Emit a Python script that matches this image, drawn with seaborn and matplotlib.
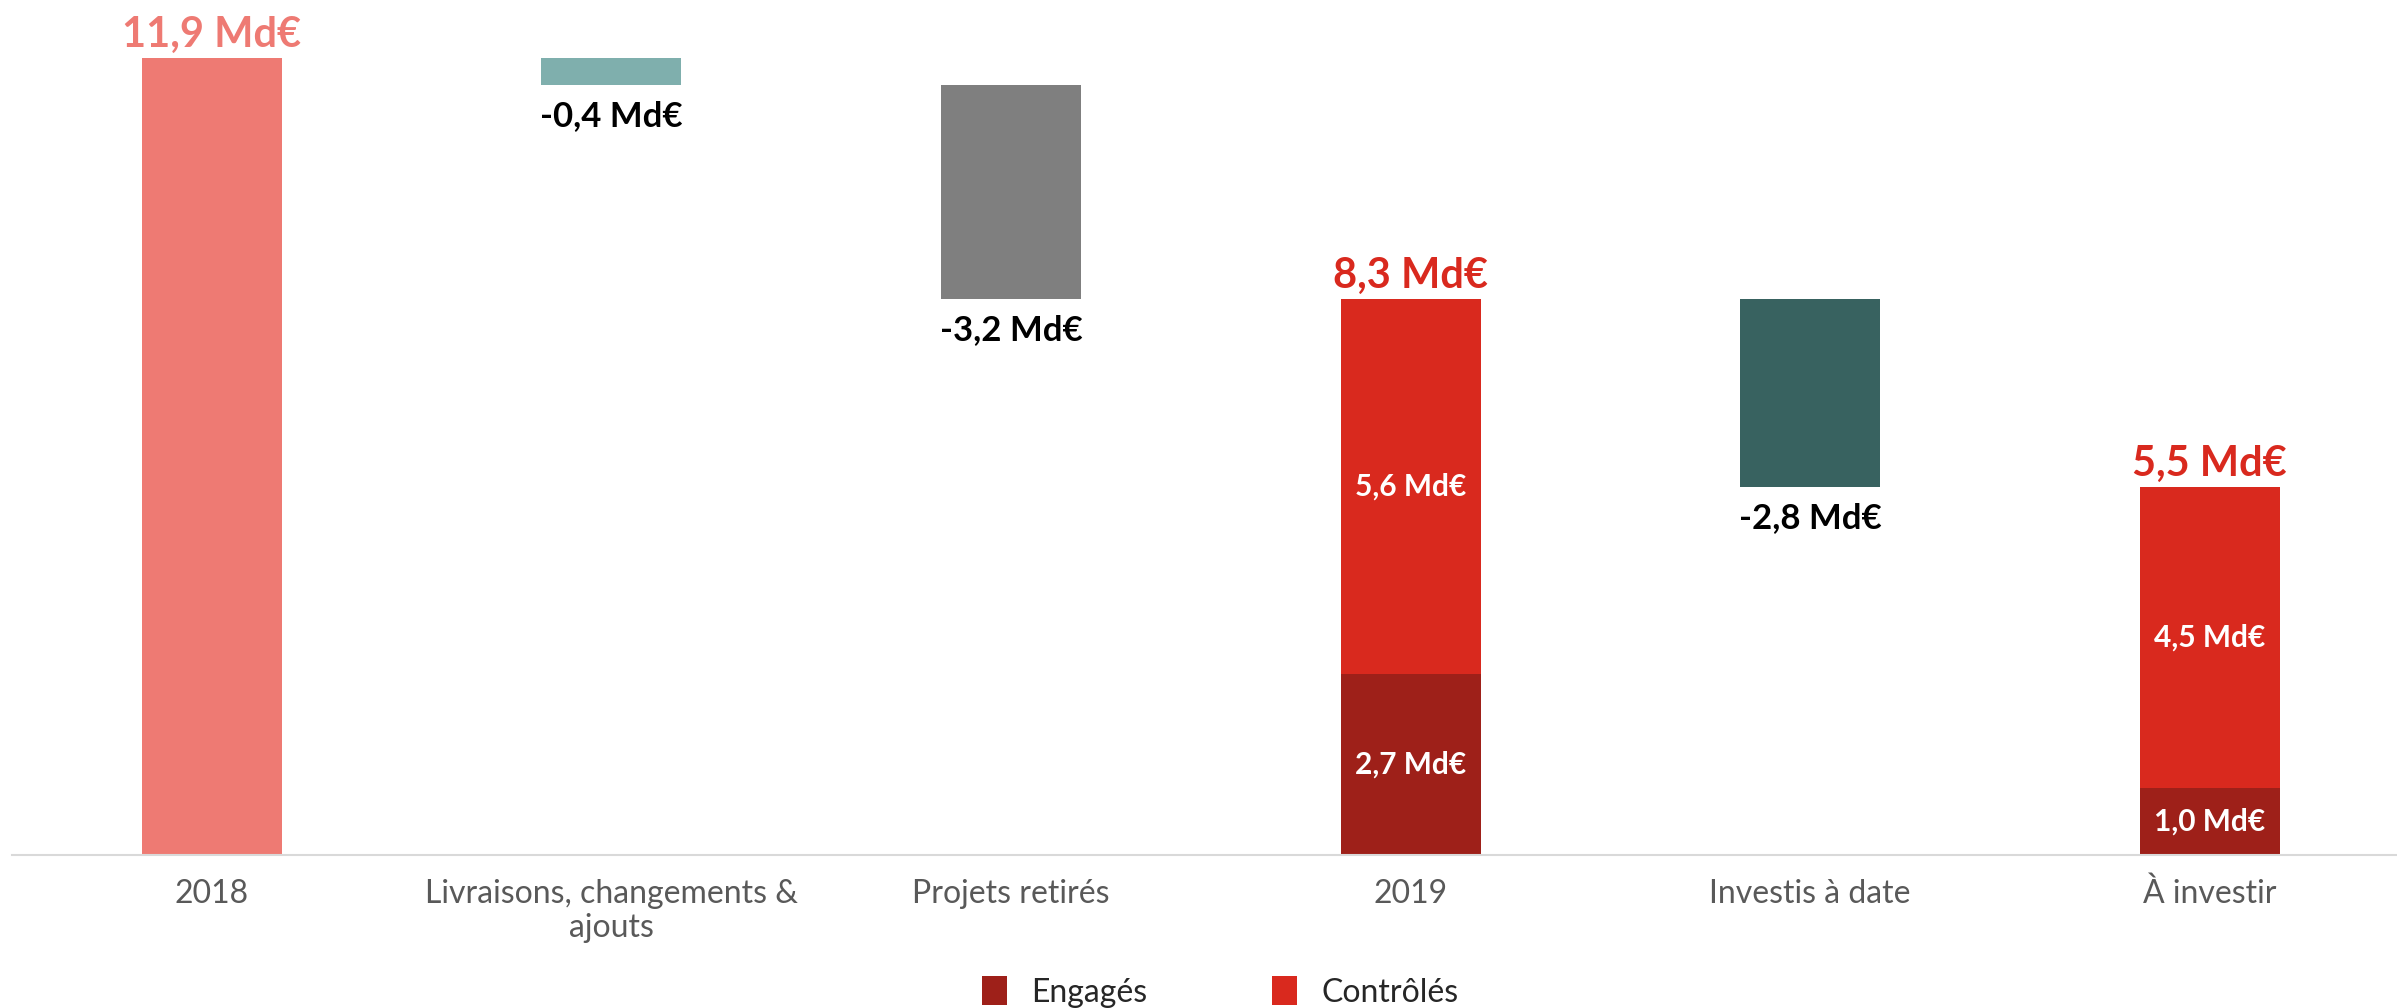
import matplotlib
matplotlib.use("Agg")
import matplotlib.pyplot as plt
from matplotlib.patches import Patch
import seaborn as sns
import pandas as pd
import numpy as np

# ---- data ----
categories = ["2018", "Livraisons, changements &\najouts", "Projets retirés",
              "2019", "Investis à date", "À investir"]
start_2018 = 11.9
deltas = [-0.4, -3.2, -2.8]          # Livraisons, Projets retirés, Investis à date
engages = [2.7, 1.0]                 # 2019, À investir
controles = [5.6, 4.5]               # 2019, À investir
legend_labels = ["Engagés", "Contrôlés"]

# ---- colours ----
c_2018 = "#EE7A73"
c_livr = "#7FAFAD"
c_proj = "#7F7F7F"
c_inv = "#386260"
c_eng = "#9E2019"
c_ctl = "#D9291E"

sns.set_theme(style="white")
plt.rcParams["font.family"] = ["Lato", "DejaVu Sans"]

def fmt(v):
    return f"{v:.1f}".replace(".", ",") + " Md€"

# waterfall levels
lvl1 = start_2018 + deltas[0]
lvl2 = lvl1 + deltas[1]
tot19 = engages[0] + controles[0]
lvl3 = tot19 + deltas[2]
tot_inv = engages[1] + controles[1]

top_h = [start_2018, start_2018, lvl1, tot19, tot19, tot_inv]
top_c = [c_2018, c_livr, c_proj, c_ctl, c_inv, c_ctl]
low_h = [0.0, lvl1, lvl2, engages[0], lvl3, engages[1]]
low_c = ["white", "white", "white", c_eng, "white", c_eng]

df_top = pd.DataFrame({"cat": categories, "v": top_h})
df_low = pd.DataFrame({"cat": categories, "v": low_h})

W, H = 2397, 1008
fig = plt.figure(figsize=(W / 100, H / 100), dpi=100)
ax_bottom = (H - 855) / H
ax = fig.add_axes([12 / W, ax_bottom, (W - 12) / W, 1 - ax_bottom])

sns.barplot(data=df_top, x="cat", y="v", hue="cat", order=categories,
            hue_order=categories, palette=dict(zip(categories, top_c)),
            legend=False, width=0.35, saturation=1, linewidth=0, ax=ax)
sns.barplot(data=df_low, x="cat", y="v", hue="cat", order=categories,
            hue_order=categories, palette=dict(zip(categories, low_c)),
            legend=False, width=0.35, saturation=1, linewidth=0, ax=ax)

ppu = 797 / 11.9
ax.set_ylim(0, 855 / ppu)
ax.set_xlim(-0.5, -0.5 + (W - 12) / 399.6)

# totals labels on top
for i, val, col in [(0, start_2018, c_2018), (3, tot19, c_ctl), (5, tot_inv, c_ctl)]:
    ax.annotate(fmt(val), (i, val), xytext=(0, 8), textcoords="offset points",
                ha="center", va="baseline", fontsize=30, fontweight="bold", color=col)

# delta labels below floating bars
for i, d, bottom in [(1, deltas[0], lvl1), (2, deltas[1], lvl2), (4, deltas[2], lvl3)]:
    ax.annotate(fmt(d), (i, bottom), xytext=(0, -11), textcoords="offset points",
                ha="center", va="top", fontsize=25, fontweight="bold", color="black")

# inner segment labels
for i, e, c in [(3, engages[0], controles[0]), (5, engages[1], controles[1])]:
    ax.text(i, e / 2, fmt(e), ha="center", va="center", fontsize=21.5,
            fontweight="bold", color="white")
    ax.text(i, e + c / 2, fmt(c), ha="center", va="center", fontsize=21.5,
            fontweight="bold", color="white")

ax.set_xlabel("")
ax.set_ylabel("")
ax.set_yticks([])
ax.tick_params(axis="x", length=0, pad=17, labelsize=23, labelcolor="#595959")
for s in ["top", "right", "left"]:
    ax.spines[s].set_visible(False)
ax.spines["bottom"].set_color("#D9D9D9")
ax.spines["bottom"].set_linewidth(1.5)
ax.set_facecolor("white")

handles = [Patch(facecolor=c_eng, edgecolor="none"), Patch(facecolor=c_ctl, edgecolor="none")]
fig.legend(handles, legend_labels, loc="center", bbox_to_anchor=(1220 / W, 16 / H),
           ncol=2, frameon=False, fontsize=23, handlelength=0.8, handleheight=1.0,
           handletextpad=0.75, columnspacing=3.9, borderpad=0)

fig.savefig("out.png", dpi=100, facecolor="white")
